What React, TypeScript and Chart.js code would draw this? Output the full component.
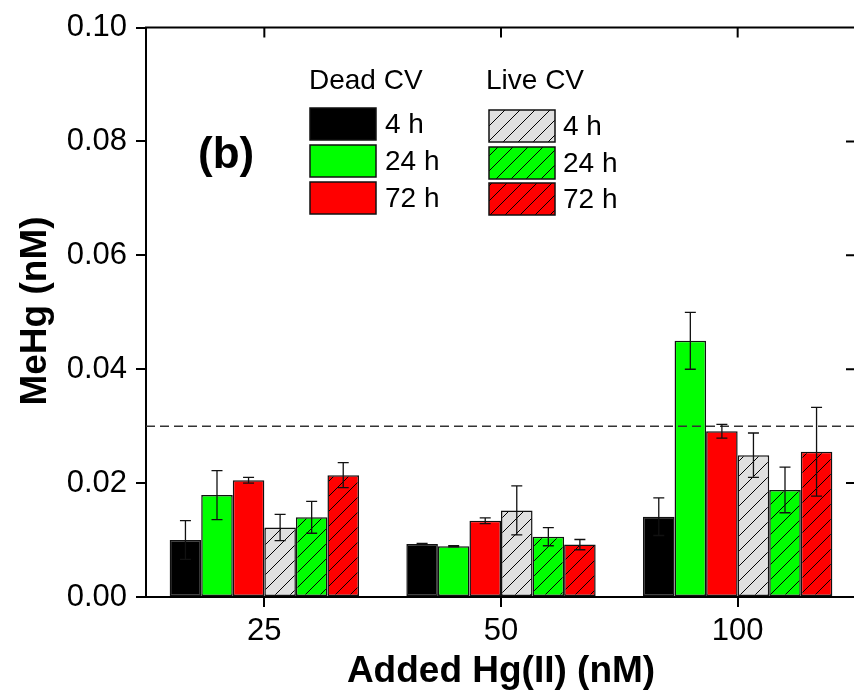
import { useEffect, useRef } from 'react';
import { Chart, registerables } from 'chart.js';

Chart.register(...registerables);

// ---- data ----
const categories = ['25', '50', '100'];
const seriesLabels = ['4 h', '24 h', '72 h'];
const groupTitles = ['Dead CV', 'Live CV'];

const dead4h = [0.0100, 0.0093, 0.0141];
const dead4hErr = [0.0034, 0.0001, 0.0033];
const dead24h = [0.0179, 0.0089, 0.0450];
const dead24hErr = [0.0043, 0.0001, 0.0050];
const dead72h = [0.0205, 0.0134, 0.0291];
const dead72hErr = [0.0005, 0.0005, 0.0012];
const live4h = [0.0122, 0.0152, 0.0249];
const live4hErr = [0.0023, 0.0043, 0.0039];
const live24h = [0.0140, 0.0106, 0.0188];
const live24hErr = [0.0028, 0.0016, 0.0040];
const live72h = [0.0214, 0.0092, 0.0255];
const live72hErr = [0.0022, 0.0009, 0.0078];

const thresholdValue = 0.03;
const yMin = 0;
const yMax = 0.1;
const yStep = 0.02;
const panelLabel = '(b)';
const xTitle = 'Added Hg(II) (nM)';
const yTitle = 'MeHg (nM)';

const FONT = '"Liberation Sans", Arial, Helvetica, sans-serif';

function makeHatch(bg: string): CanvasPattern | string {
  const s = 15;
  const tile = document.createElement('canvas');
  tile.width = s;
  tile.height = s;
  const c = tile.getContext('2d');
  if (!c) return bg;
  c.fillStyle = bg;
  c.fillRect(0, 0, s, s);
  c.strokeStyle = '#000';
  c.lineWidth = 1;
  c.beginPath();
  c.moveTo(0, s);
  c.lineTo(s, 0);
  c.moveTo(-2, 2);
  c.lineTo(2, -2);
  c.moveTo(s - 2, s + 2);
  c.lineTo(s + 2, s - 2);
  c.stroke();
  return c.createPattern(tile, 'repeat') || bg;
}

export default function App() {
  const ref = useRef<HTMLCanvasElement | null>(null);

  useEffect(() => {
    document.body.style.margin = '0';
    const canvas = ref.current;
    if (!canvas) return;

    const grayHatch = makeHatch('#e0e0e0');
    const greenHatch = makeHatch('#00ff00');
    const redHatch = makeHatch('#ff0000');

    const series = [
      { data: dead4h, err: dead4hErr, fill: '#000000' as any, label: 'Dead 4 h' },
      { data: dead24h, err: dead24hErr, fill: '#00ff00' as any, label: 'Dead 24 h' },
      { data: dead72h, err: dead72hErr, fill: '#ff0000' as any, label: 'Dead 72 h' },
      { data: live4h, err: live4hErr, fill: grayHatch as any, label: 'Live 4 h' },
      { data: live24h, err: live24hErr, fill: greenHatch as any, label: 'Live 24 h' },
      { data: live72h, err: live72hErr, fill: redHatch as any, label: 'Live 72 h' },
    ];

    const errorBars = {
      id: 'errorBars',
      afterDatasetsDraw(chart: any) {
        const ctx = chart.ctx;
        const y = chart.scales.y;
        // threshold dashed line
        ctx.save();
        ctx.strokeStyle = '#333';
        ctx.lineWidth = 1.5;
        ctx.setLineDash([9, 5]);
        const ty = y.getPixelForValue(thresholdValue);
        ctx.beginPath();
        ctx.moveTo(chart.chartArea.left, ty);
        ctx.lineTo(chart.chartArea.right, ty);
        ctx.stroke();
        ctx.setLineDash([]);
        ctx.strokeStyle = '#111';
        ctx.lineWidth = 1.3;
        series.forEach((s, i) => {
          const meta = chart.getDatasetMeta(i);
          meta.data.forEach((el: any, j: number) => {
            const v = s.data[j];
            const e = s.err[j];
            const yt = y.getPixelForValue(v + e);
            const yb = y.getPixelForValue(v - e);
            const cap = 5.5;
            ctx.beginPath();
            ctx.moveTo(el.x, yt);
            ctx.lineTo(el.x, yb);
            ctx.moveTo(el.x - cap, yt);
            ctx.lineTo(el.x + cap, yt);
            ctx.moveTo(el.x - cap, yb);
            ctx.lineTo(el.x + cap, yb);
            ctx.stroke();
          });
        });
        ctx.restore();
      },
    };

    const frame = {
      id: 'frame',
      afterDraw(chart: any) {
        const ctx = chart.ctx;
        const { left, right, top, bottom } = chart.chartArea;
        const x = chart.scales.x;
        const y = chart.scales.y;
        ctx.save();
        ctx.strokeStyle = '#000';
        ctx.lineWidth = 2;
        ctx.beginPath();
        ctx.moveTo(left - 1, top);
        ctx.lineTo(right, top);
        ctx.moveTo(right, top);
        ctx.lineTo(right, bottom);
        categories.forEach((_, i) => {
          const px = x.getPixelForValue(i);
          ctx.moveTo(px, top);
          ctx.lineTo(px, top + 10);
        });
        y.ticks.forEach((t: any) => {
          const py = y.getPixelForValue(t.value);
          ctx.moveTo(right, py);
          ctx.lineTo(right - 10, py);
        });
        ctx.stroke();

        // y axis title
        ctx.fillStyle = '#000';
        ctx.save();
        ctx.translate(36, 311);
        ctx.rotate(-Math.PI / 2);
        ctx.font = `bold 37px ${FONT}`;
        ctx.textAlign = 'center';
        ctx.textBaseline = 'middle';
        ctx.fillText(yTitle, 0, 0);
        ctx.restore();

        // panel label
        ctx.fillStyle = '#000';
        ctx.font = `bold 44px ${FONT}`;
        ctx.textAlign = 'left';
        ctx.textBaseline = 'middle';
        ctx.fillText(panelLabel, 198, 156);

        // legend
        const colX = [310, 489];
        const textX = [385, 563];
        const rowsY = [[108, 145, 182], [110, 147, 183]];
        const boxW = 66;
        const boxH = 32;
        ctx.font = `28px ${FONT}`;
        groupTitles.forEach((g, gi) => {
          ctx.fillText(g, gi === 0 ? 309 : 486, 81);
          for (let r = 0; r < 3; r++) {
            const s = series[gi * 3 + r];
            const by = rowsY[gi][r];
            ctx.fillStyle = s.fill;
            ctx.fillRect(colX[gi], by, boxW, boxH);
            ctx.strokeStyle = '#111';
            ctx.lineWidth = 1.5;
            ctx.strokeRect(colX[gi], by, boxW, boxH);
            ctx.fillStyle = '#000';
            ctx.fillText(seriesLabels[r], textX[gi], by + boxH / 2 + 1);
          }
        });
        ctx.restore();
      },
    };

    const chart = new Chart(canvas, {
      type: 'bar',
      data: {
        labels: categories,
        datasets: series.map((s) => ({
          label: s.label,
          data: s.data,
          backgroundColor: s.fill,
          borderColor: '#111',
          borderWidth: 1.5,
          borderSkipped: false,
          categoryPercentage: 0.8,
          barPercentage: 1.0,
        })),
      },
      options: {
        animation: false,
        responsive: false,
        devicePixelRatio: 1,
        layout: { padding: { top: 26, right: 4, left: 0, bottom: 0 } },
        plugins: {
          legend: { display: false },
          tooltip: { enabled: false },
        },
        scales: {
          x: {
            type: 'category',
            offset: true,
            afterFit: (s: any) => {
              s.height = 101;
            },
            grid: {
              offset: false,
              drawOnChartArea: false,
              drawTicks: true,
              tickLength: 10,
              color: '#000',
              lineWidth: 2,
            },
            border: { display: true, color: '#000', width: 2 },
            ticks: {
              color: '#000',
              padding: 6,
              font: { family: FONT, size: 31 },
            },
            title: {
              display: true,
              text: xTitle,
              color: '#000',
              font: { family: FONT, size: 37, weight: 'bold' },
              padding: { top: 0, bottom: 4 },
            },
          },
          y: {
            min: yMin,
            max: yMax,
            afterFit: (s: any) => {
              s.width = 146;
            },
            grid: {
              drawOnChartArea: false,
              drawTicks: true,
              tickLength: 10,
              color: '#000',
              lineWidth: 2,
            },
            border: { display: true, color: '#000', width: 2 },
            ticks: {
              stepSize: yStep,
              color: '#000',
              padding: 9,
              font: { family: FONT, size: 31 },
              callback: (v: any) => Number(v).toFixed(2),
            },
            title: { display: false },
          },
        },
      },
      plugins: [errorBars, frame],
    } as any);

    return () => {
      chart.destroy();
    };
  }, []);

  return (
    <div style={{ width: 854, height: 698, overflow: 'hidden', position: 'relative' }}>
      <canvas ref={ref} width={860} height={698} style={{ display: 'block', width: 860, height: 698 }} />
    </div>
  );
}
